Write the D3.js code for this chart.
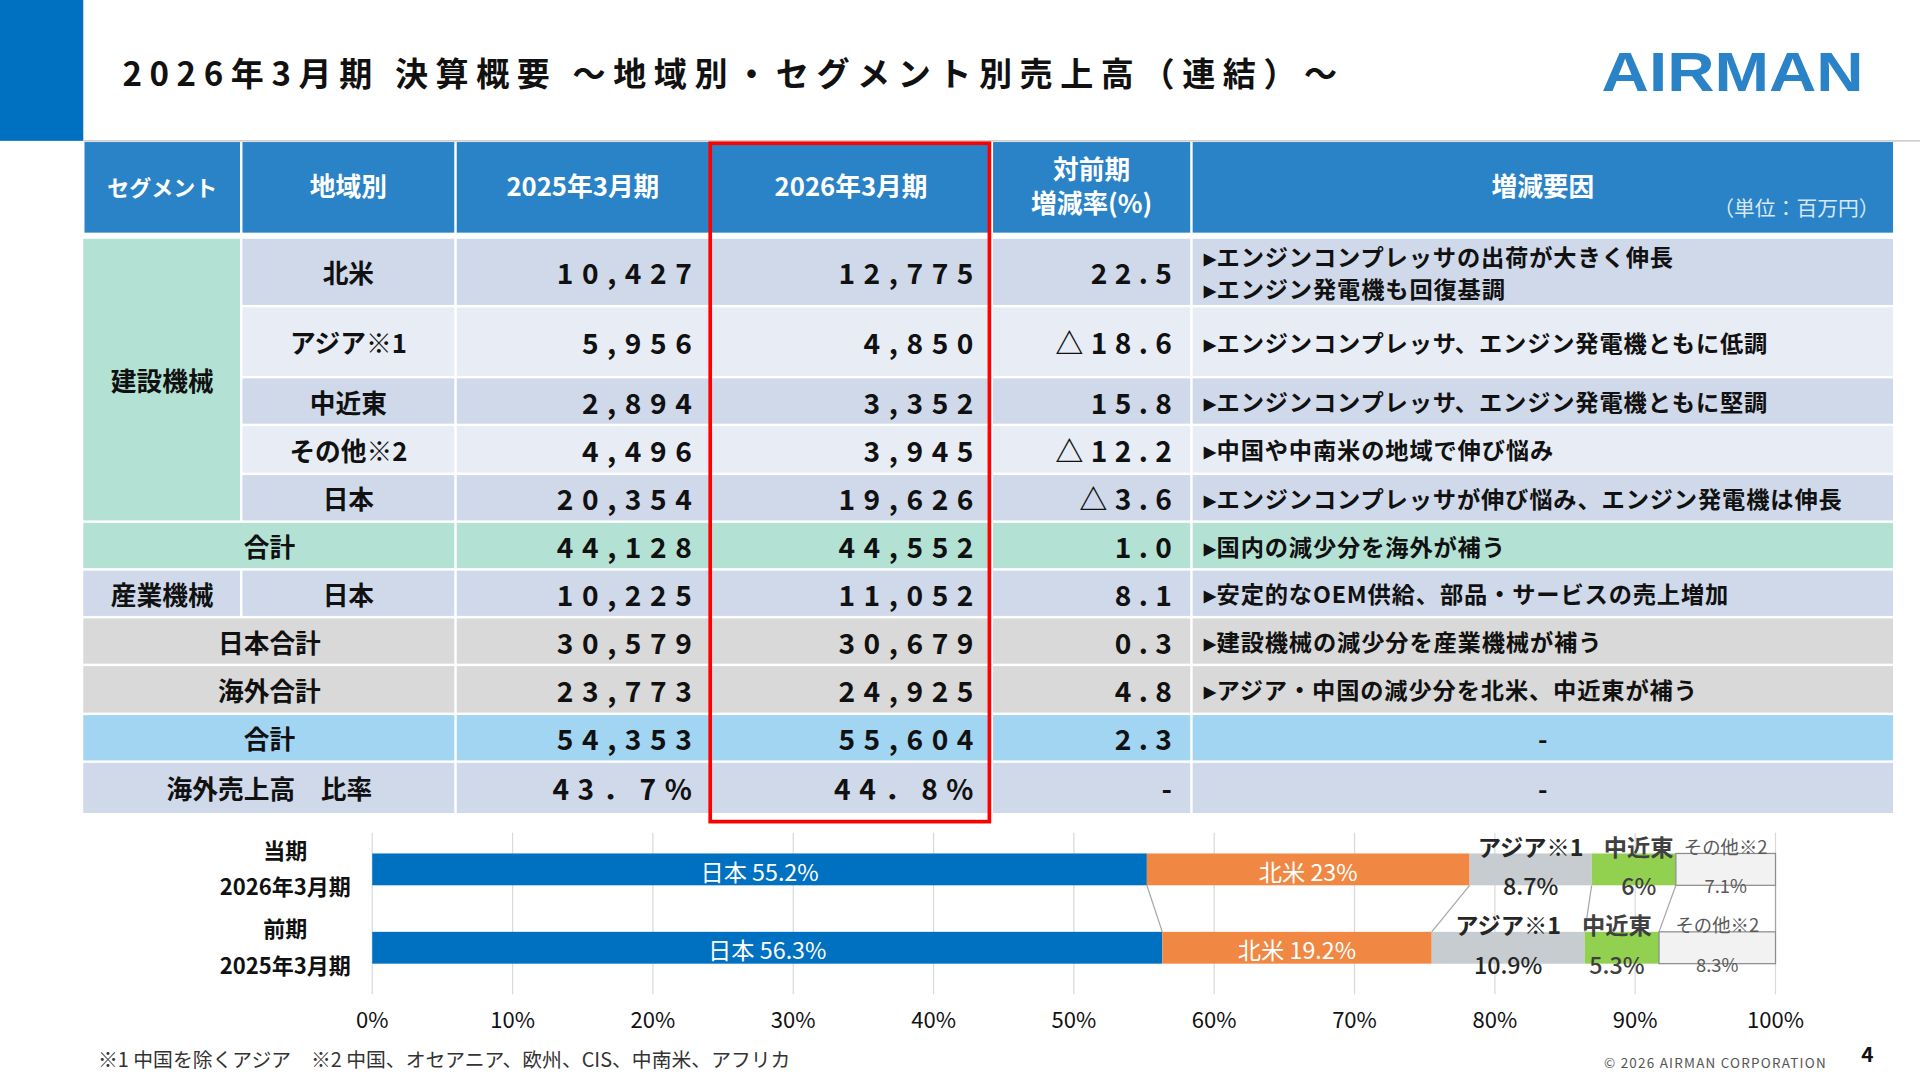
<!DOCTYPE html>
<html><head><meta charset="utf-8">
<script src="https://cdn.jsdelivr.net/npm/d3@7/dist/d3.min.js"></script>
<style>body{margin:0;background:#fff}svg{display:block}</style></head>
<body><svg id="c" width="1920" height="1080" viewBox="0 0 1568 882"></svg>
<script>
const regions = ["北米","アジア※1","中近東","その他※2","日本","合計","日本","日本合計","海外合計","合計","海外売上高　比率"];
const prevVals = ["10,427","5,956","2,894","4,496","20,354","44,128","10,225","30,579","23,773","54,353","43．7%"];
const currVals = ["12,775","4,850","3,352","3,945","19,626","44,552","11,052","30,679","24,925","55,604","44．8%"];
const rates = ["22.5","△18.6","15.8","△12.2","△3.6","1.0","8.1","0.3","4.8","2.3","-"];
const reasons = [["▸エンジンコンプレッサの出荷が大きく伸長","▸エンジン発電機も回復基調"],["▸エンジンコンプレッサ、エンジン発電機ともに低調"],["▸エンジンコンプレッサ、エンジン発電機ともに堅調"],["▸中国や中南米の地域で伸び悩み"],["▸エンジンコンプレッサが伸び悩み、エンジン発電機は伸長"],["▸国内の減少分を海外が補う"],["▸安定的なOEM供給、部品・サービスの売上増加"],["▸建設機械の減少分を産業機械が補う"],["▸アジア・中国の減少分を北米、中近東が補う"],["-"],["-"]];
const headers = ["セグメント","地域別","2025年3月期","2026年3月期","対前期\n増減率(%)","増減要因"];
const barCats = ["日本","北米","アジア※1","中近東","その他※2"];
const barCurr = [55.2,23,8.7,6,7.1];
const barPrev = [56.3,19.2,10.9,5.3,8.3];
const periods = [["当期","2026年3月期"],["前期","2025年3月期"]];
const ticks = [0,10,20,30,40,50,60,70,80,90,100];

const svg = d3.select("#c");
const F = "'Noto Sans CJK JP','Noto Sans',sans-serif";
svg.append("rect").attr("x",0).attr("y",0).attr("width",68).attr("height",115).attr("fill","#0070c0");
svg.append("line").attr("x1",68).attr("x2",1568).attr("y1",115).attr("y2",115).attr("stroke","#bfbfbf");
svg.append("text").attr("x",100).attr("y",70).attr("font-family",F).attr("font-weight",700).attr("font-size",27).attr("letter-spacing",6.2).attr("fill","#111").text("2026年3月期 決算概要 ～地域別・セグメント別売上高（連結）～");
svg.append("text").attr("x",1308).attr("y",74).attr("font-family","'Liberation Sans',Arial,sans-serif").attr("font-weight",900).attr("font-size",46).attr("textLength",214).attr("lengthAdjust","spacingAndGlyphs").attr("fill","#2a83c6").text("AIRMAN");

const cx = [68,197,372,580,810,973,1547];
const ry = [194,250,308,347,387,426,465,504,543,583,622,665];
const hdrFill="#2a83c6";
headers.forEach((h,i)=>{
  svg.append("rect").attr("x",cx[i]+1).attr("y",116).attr("width",cx[i+1]-cx[i]-2).attr("height",74).attr("fill",hdrFill);
  const lines=h.split("\n");
  lines.forEach((l,j)=>svg.append("text").attr("x",(cx[i]+cx[i+1])/2).attr("y",160+(j-(lines.length-1)/2)*28).attr("text-anchor","middle").attr("font-family",F).attr("font-weight",700).attr("font-size",i==0?18:21).attr("fill","#fff").text(l));
});
svg.append("text").attr("x",1535).attr("y",176).attr("text-anchor","end").attr("font-family",F).attr("font-size",17).attr("fill","#d6e7f5").text("（単位：百万円）");

const dark="#cfd9ea", light="#e8edf5", mint="#b3e2d4", gray="#d9d9d9", blue="#a2d5f2";
const rowFill=[dark,light,dark,light,dark,mint,dark,gray,gray,blue,dark];
const T=(x,y,t,anc,opt={})=>svg.append("text").attr("x",x).attr("y",y).attr("text-anchor",anc).attr("dominant-baseline","central").attr("font-family",F).attr("font-weight",700).attr("font-size",opt.size||21).attr("letter-spacing",opt.ls||0).attr("fill",opt.fill||"#111").text(t);
regions.forEach((r,i)=>{
  const y0=ry[i]+1,h=ry[i+1]-ry[i]-2,ym=(ry[i]+ry[i+1])/2;
  const f=rowFill[i];
  if(i<5){
    svg.append("rect").attr("x",cx[1]+1).attr("y",y0).attr("width",cx[2]-cx[1]-2).attr("height",h).attr("fill",f);
    T((cx[1]+cx[2])/2,ym,r,"middle");
  } else if(i==6){
    svg.append("rect").attr("x",cx[0]).attr("y",y0).attr("width",cx[1]-cx[0]-1).attr("height",h).attr("fill",f);
    svg.append("rect").attr("x",cx[1]+1).attr("y",y0).attr("width",cx[2]-cx[1]-2).attr("height",h).attr("fill",f);
    T((cx[0]+cx[1])/2,ym,"産業機械","middle");
    T((cx[1]+cx[2])/2,ym,r,"middle");
  } else {
    svg.append("rect").attr("x",cx[0]).attr("y",y0).attr("width",cx[2]-cx[0]-1).attr("height",h).attr("fill",f);
    T(220,ym,r,"middle");
  }
  for(let c=2;c<6;c++){
    svg.append("rect").attr("x",cx[c]+1).attr("y",y0).attr("width",cx[c+1]-cx[c]-2).attr("height",h).attr("fill",f);
  }
  T(cx[3]-8,ym,prevVals[i],"end",{size:23,ls:7});
  T(cx[4]-8,ym,currVals[i],"end",{size:23,ls:7});
  T(cx[5]-10,ym,rates[i],"end",{size:23,ls:6});
  const rs=reasons[i];
  if(rs[0]=="-") T((cx[5]+cx[6])/2,ym,"-","middle");
  else rs.forEach((t,j)=>T(cx[5]+10,ym+(j-(rs.length-1)/2)*26,t,"start",{size:19,ls:0.7}));
});
svg.append("rect").attr("x",cx[0]).attr("y",ry[0]+1).attr("width",cx[1]-cx[0]-1).attr("height",ry[5]-ry[0]-2).attr("fill",mint);
T((cx[0]+cx[1])/2,(ry[0]+ry[5])/2,"建設機械","middle");
svg.append("rect").attr("x",580).attr("y",117).attr("width",228).attr("height",554).attr("fill","none").attr("stroke","#ff0000").attr("stroke-width",3);

const x=d3.scaleLinear().domain([0,100]).range([304,1450]);
const barY=[697,761], bh=26;
const colors=["#0070c0","#f08844","#c6cccf","#92d050","#f2f2f2"];
svg.append("g").selectAll("line").data(ticks).join("line").attr("x1",d=>x(d)).attr("x2",d=>x(d)).attr("y1",680).attr("y2",812).attr("stroke","#d9d9d9");
svg.append("g").selectAll("text").data(ticks).join("text").attr("x",d=>x(d)).attr("y",831).attr("text-anchor","middle").attr("dominant-baseline","central").attr("font-family",F).attr("font-size",18).attr("fill","#111").text(d=>d+"%");
const stack=v=>{let s=0;return v.map(d=>{const o=[s,s+d];s+=d;return o;});};
const S=[stack(barCurr),stack(barPrev)];
for(let k=1;k<5;k++) svg.append("line").attr("x1",x(S[0][k][0])).attr("y1",barY[0]+bh).attr("x2",x(S[1][k][0])).attr("y2",barY[1]).attr("stroke","#a6a6a6");
svg.append("line").attr("x1",x(100)).attr("y1",barY[0]+bh).attr("x2",x(100)).attr("y2",barY[1]).attr("stroke","#a6a6a6");
[barCurr,barPrev].forEach((vals,b)=>{
  const y=barY[b];
  S[b].forEach((s,k)=>{
    svg.append("rect").attr("x",x(s[0])).attr("y",y).attr("width",x(s[1])-x(s[0])).attr("height",bh).attr("fill",colors[k]).attr("stroke",k==4?"#8c8c8c":"none");
    const m=(x(s[0])+x(s[1]))/2;
    if(k<2) T(m,y+bh/2+1,barCats[k]+" "+vals[k]+"%","middle",{size:19,fill:"#fff"}).attr("font-weight",400);
    else {
      const c=k==4?"#595959":"#262626", sz=k==4?15:19;
      const dx = k==3?(b==0?4:-4):0;
      T(m+dx,y-6,barCats[k],"middle",{size:sz,fill:k==3?"#404040":c}).attr("font-weight",k==4?400:700);
      T(m+dx,y+bh,vals[k]+"%","middle",{size:sz,fill:k==3?"#404040":c}).attr("font-weight",k==4?400:500);
    }
  });
  T(233,y-4,periods[b][0],"middle",{size:18});
  T(233,y+bh,periods[b][1],"middle",{size:18});
});

svg.append("text").attr("x",80).attr("y",871).attr("font-family",F).attr("font-size",16.2).attr("fill","#333").text("※1 中国を除くアジア　※2 中国、オセアニア、欧州、CIS、中南米、アフリカ");
svg.append("text").attr("x",1492).attr("y",872).attr("text-anchor","end").attr("font-family",F).attr("font-size",11).attr("letter-spacing",1).attr("fill","#555").text("© 2026 AIRMAN CORPORATION");
svg.append("text").attr("x",1525).attr("y",867).attr("text-anchor","middle").attr("font-family",F).attr("font-weight",700).attr("font-size",17).attr("fill","#111").text("4");
</script></body></html>
